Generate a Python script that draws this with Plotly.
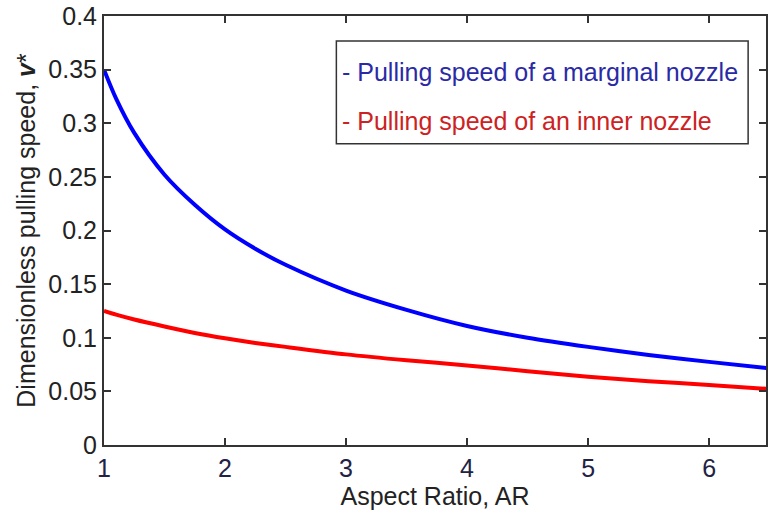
import plotly.graph_objects as go

aspect_ratio = [1.0, 1.1, 1.25, 1.5, 1.75, 2.0, 2.25, 2.5, 3.0, 3.5, 4.0, 4.5, 5.0, 5.5, 6.0, 6.5]
marginal_speed = [0.350, 0.323, 0.291, 0.252, 0.224, 0.201, 0.183, 0.168, 0.144, 0.126, 0.111, 0.100,
                  0.0915, 0.084, 0.0775, 0.0715]
inner_speed = [0.125, 0.1215, 0.117, 0.1105, 0.1045, 0.0995, 0.0952, 0.0915, 0.0845, 0.0790, 0.0742,
               0.0688, 0.0636, 0.0595, 0.0560, 0.0522]

x_ticks = [1, 2, 3, 4, 5, 6]
y_ticks = [0, 0.05, 0.1, 0.15, 0.2, 0.25, 0.3, 0.35, 0.4]
y_tick_text = ["0", "0.05", "0.1", "0.15", "0.2", "0.25", "0.3", "0.35", "0.4"]

legend_lines = ["- Pulling speed of a marginal nozzle", "- Pulling speed of an inner nozzle"]
legend_colors = ["#2a2aa6", "#cc2222"]

FONT = "Liberation Sans, Arial, sans-serif"
AXIS_COLOR = "#333333"
FS = 25

fig = go.Figure()
fig.add_trace(go.Scatter(x=aspect_ratio, y=marginal_speed, mode="lines",
                         line=dict(color="#0000ff", width=4, shape="spline", smoothing=0.8),
                         showlegend=False, hoverinfo="skip"))
fig.add_trace(go.Scatter(x=aspect_ratio, y=inner_speed, mode="lines",
                         line=dict(color="#ff0000", width=4, shape="spline", smoothing=0.8),
                         showlegend=False, hoverinfo="skip"))

fig.update_xaxes(range=[1, 6.47], tickvals=x_ticks, ticks="inside", ticklen=7, tickwidth=1.5,
                 tickcolor=AXIS_COLOR, showline=True, linecolor=AXIS_COLOR, linewidth=2,
                 mirror="ticks", showgrid=False, zeroline=False,
                 tickfont=dict(family=FONT, size=FS, color="#222244"),
                 title=dict(text="Aspect Ratio, AR", font=dict(family=FONT, size=FS, color="#222222"),
                            standoff=4))
fig.update_yaxes(range=[0, 0.4], tickvals=y_ticks, ticktext=y_tick_text, ticks="inside", ticklen=7,
                 tickwidth=1.5, tickcolor=AXIS_COLOR, showline=True, linecolor=AXIS_COLOR, linewidth=2,
                 mirror="ticks", showgrid=False, zeroline=False,
                 tickfont=dict(family=FONT, size=FS, color="#222222"),
                 title=dict(text="Dimensionless pulling speed, <b><i>v</i></b>*",
                            font=dict(family=FONT, size=FS, color="#222222"), standoff=6))

fig.add_shape(type="rect", xref="paper", yref="paper", x0=0.351, x1=0.973, y0=0.702, y1=0.942,
              line=dict(color="#333333", width=1.5), fillcolor="white", layer="above")
for i, (txt, col) in enumerate(zip(legend_lines, legend_colors)):
    fig.add_annotation(xref="paper", yref="paper", x=0.357, y=[0.869, 0.755][i], text=txt,
                       showarrow=False, xanchor="left", yanchor="middle",
                       font=dict(family=FONT, size=FS, color=col))

fig.update_layout(width=768, height=514, margin=dict(l=104, r=0, t=16, b=69),
                  paper_bgcolor="white", plot_bgcolor="white")

fig.write_html("out.html")
